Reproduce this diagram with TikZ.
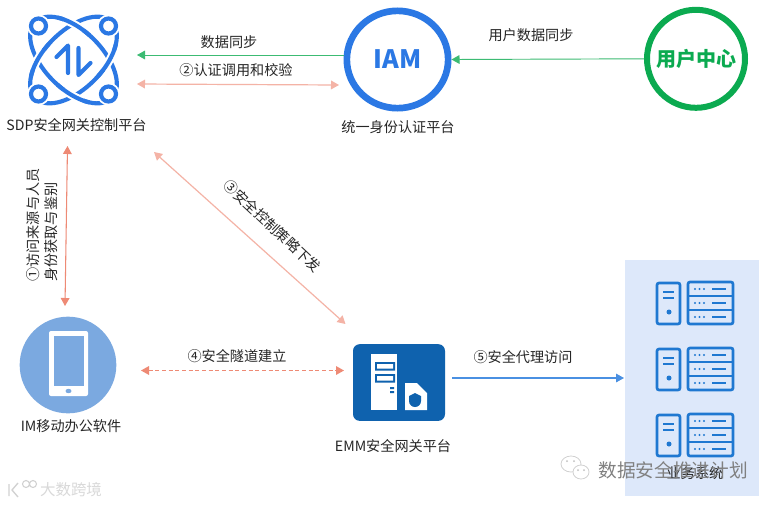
\documentclass[tikz,border=0pt]{standalone}
\usepackage{fontspec}
\setmainfont{Noto Sans CJK SC}
\usetikzlibrary{arrows.meta,shapes.geometric}
\definecolor{iamblue}{HTML}{2B78E4}
\definecolor{ugreen}{HTML}{0BAA50}
\definecolor{salmon}{HTML}{F4B3A6}
\definecolor{salmond}{HTML}{EE8A75}
\definecolor{phone}{HTML}{7BA9E0}
\definecolor{emm}{HTML}{0F62AE}
\definecolor{srv}{HTML}{1F78D1}
\definecolor{panel}{HTML}{DDE8FA}
\definecolor{flowblue}{HTML}{4A90E2}
\tikzset{
 lbl/.style={font=\fontsize{10.6pt}{13.5pt}\selectfont,text=black!85,inner sep=0,align=center},
 myt/.tip={Triangle[length=6pt,width=6.5pt]},
 salmonline/.style={draw=salmon,line width=.9pt,{myt}-{myt}},
 darkline/.style={draw=salmond,line width=.8pt,{myt}-{myt}},
 greenline/.style={draw=ugreen!80,line width=.7pt,-{myt}},
 logo/.style={draw=iamblue,line width=3.1pt},
 halo/.style={draw=white,line width=6.2pt},
 srvline/.style={draw=srv,line width=2pt},
 wm/.style={font=\fontsize{14pt}{16pt}\selectfont,text=black!50,inner sep=0}
}
\newcommand{\serverpair}[1]{%
 \begin{scope}[shift={(0,#1)}]
  \draw[srvline,rounded corners=1.5pt] (657,283) rectangle (680,324);
  \draw[srvline] (663,292) -- (674,292) (663,298) -- (674,298);
  \fill[srv] (669,312) circle (2.5);
  \draw[srvline,rounded corners=1.5pt] (688,282) rectangle (733,324);
  \draw[srvline] (688,296) -- (733,296) (688,310) -- (733,310);
  \foreach \yy in {289,303,317}{
   \fill[srv] (695,\yy) circle (1.1) (699.5,\yy) circle (1.1) (704,\yy) circle (1.1);
   \draw[srvline] (712,\yy) -- (726,\yy);
  }
 \end{scope}}
\newcommand{\crossarc}[2]{%
 \draw[halo,rotate=#1] plot[domain=#2-13:#2+13,samples=9] ({54*cos(\x)},{29*sin(\x)});
 \draw[logo,rotate=#1] plot[domain=#2-22:#2+22,samples=13] ({54*cos(\x)},{29*sin(\x)});}
\begin{document}
\begin{tikzpicture}[x=.75pt,y=-.75pt]
\useasboundingbox (0,0) rectangle (774,504);
\fill[white] (0,0) rectangle (774,504);
% panel
\fill[panel] (625,260) rectangle (759,496);
\serverpair{0}\serverpair{66}\serverpair{132}
% SDP logo
\begin{scope}[shift={(73.5,60)}]
 \draw[logo,rotate=45] plot[domain=0:360,samples=73] ({54*cos(\x)},{29*sin(\x)});
 \draw[logo,rotate=-45] plot[domain=0:360,samples=73] ({54*cos(\x)},{29*sin(\x)});
 \crossarc{45}{62}\crossarc{45}{242}
 \crossarc{-45}{62}\crossarc{-45}{242}
 \foreach \a/\b in {-35/-34,35/-34,-35/34,35/34}{
  \fill[white] (\a,\b) circle (11.5);
  \draw[logo] (\a,\b) circle (7.5);
 }
 \draw[logo,line cap=round,line join=round] (-17,-3) -- (-5.5,-14.5) -- (-5.5,13);
 \draw[logo,line cap=round,line join=round] (17,3) -- (5,15) -- (5,-12);
\end{scope}
\node[lbl] (sdpl) at (76.5,125) {SDP安全网关控制平台};
\coordinate (sdpe) at (137,55);
\coordinate (sdpf) at (137,84);
\coordinate (sdpb) at (67.5,146);
\coordinate (sdpd) at (154,152);
% IAM
\node[ellipse,draw=iamblue,line width=5pt,minimum width=76pt,minimum height=73pt,inner sep=0,text=iamblue,font=\fontsize{19pt}{21pt}\selectfont\bfseries] (iam) at (397.5,59.5) {IAM};
\node[lbl] (iaml) at (398,127) {统一身份认证平台};
\coordinate (iame) at (344,55);
\coordinate (iamf) at (339,85);
% user center
\node[circle,draw=ugreen,line width=4.5pt,minimum size=73.5pt,inner sep=0,text=ugreen,font=\fontsize{15pt}{17pt}\selectfont\bfseries] (uc) at (696,58.8) {用户中心};
% IM
\node[circle,fill=phone,minimum size=72.5pt,inner sep=0] (im) at (68,365) {};
\fill[white,rounded corners=1.5pt] (49,331) rectangle (88,396);
\fill[phone] (53.5,336) rectangle (83.5,386);
\fill[phone] (68.5,391) ellipse (3 and 2.2);
\node[lbl] (iml) at (71,426) {IM移动办公软件};
\coordinate (imt) at (65,306);
\coordinate (imr) at (141,370.5);
% EMM
\node[rounded corners=5pt,fill=emm,minimum width=69pt,minimum height=57.5pt,inner sep=0] (emm) at (399,382.5) {};
\fill[white] (371,354) rectangle (397,410);
\fill[emm] (375,362) rectangle (395,370.5) (375,374) rectangle (395,382.5);
\fill[white] (377,364) rectangle (393,368.5) (377,376) rectangle (393,380.5);
\fill[emm] (390,387) rectangle (394,389) (390,391) rectangle (394,393);
\fill[white] (405,383) -- (417,383) -- (427,393) -- (427,410) -- (405,410) -- cycle;
\fill[emm] (409,396) -- (415,393) -- (421,396) -- (421,401) to[out=-90,in=0] (415,407) to[out=180,in=-90] (409,401) -- cycle;
\node[lbl] (emml) at (393,446.5) {EMM安全网关平台};
\coordinate (emmt) at (345.5,324);
\coordinate (emml2) at (344,370.5);
\coordinate (emmr) at (452,378);
\coordinate (pnl) at (624,378);
% panel label under watermark
\node[lbl,text=black!85] (yw) at (695,473) {业务系统};
% connectors
\draw[greenline] (iame) -- (sdpe);
\draw[salmonline] (iamf) -- (sdpf);
\draw[greenline] (uc.west) -- (iam.east);
\draw[darkline] (sdpb) -- (imt);
\draw[salmonline] (sdpd) -- (emmt);
\draw[darkline,densely dashed] (imr) -- (emml2);
\draw[draw=flowblue,line width=.8pt,-{myt}] (emmr) -- (pnl);
% connector labels
\node[lbl] (l1) at (229,42) {数据同步};
\node[lbl] (l2) at (236,70) {②认证调用和校验};
\node[lbl] (l3) at (531,35) {用户数据同步};
\node[lbl,rotate=90,align=left] (l4) at (42,225) {①访问来源与人员\\身份获取与鉴别};
\node[lbl,rotate=-43] (l5) at (272.5,226) {③安全控制策略下发};
\node[lbl] (l6) at (237,356) {④安全隧道建立};
\node[lbl] (l7) at (523,357) {⑤安全代理访问};
% watermarks
\node[wm] (w1) at (673,470) {数据安全推进计划};
\node[font=\fontsize{11.6pt}{13pt}\selectfont,text=black!15,inner sep=0] (w2) at (71,490) {大数跨境};
\draw[black!18,line width=1pt] (9,484) -- (9,496) (18,483) -- (12,490) -- (18,497);
\draw[black!18,line width=.8pt] (26,484) circle (3.5) (33,484) circle (3.5);
\draw[black!18,line width=.6pt,fill=white] (571,464) ellipse (10 and 8);
\draw[black!18,line width=.6pt,fill=white] (581,472) ellipse (8 and 7);
\fill[black!25] (567,461) circle (1) (574,461) circle (1) (578,470) circle (1) (584,470) circle (1);
\end{tikzpicture}
\end{document}
